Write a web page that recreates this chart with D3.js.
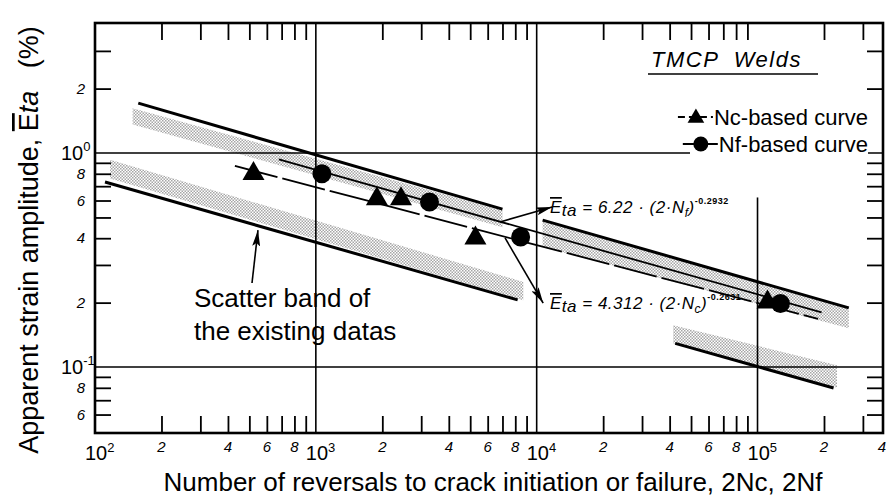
<!doctype html>
<html>
<head>
<meta charset="utf-8"/>
<style>
    html, body { margin: 0; padding: 0; background: #fff; }
    svg { display: block; }
    text { font-family: "Liberation Sans", Arial, sans-serif; fill: #000; }
    .minor-label { font-style: italic; font-size: 15px; }
    .major-label { font-size: 20px; }
    .sup { font-size: 13px; }
    .big { font-size: 26px; }
    .eq { font-style: italic; font-size: 17px; letter-spacing: 0.5px; }
</style>
<script src="https://d3js.org/d3.v7.min.js"></script>
</head>
<body>
<svg width="888" height="497"></svg>
<script>
// ---- data ----
var xDomain = [100, 3.7e5];
var yDomain = [0.0492, 4.05];

var xMajorVals = [1e2, 1e3, 1e4, 1e5];
var xMajorExp = ["2", "3", "4", "5"];
var xLabelVals = [200, 400, 600, 800, 2000, 4000, 6000, 8000, 20000, 40000, 60000, 80000, 200000, 400000];
var xLabelText = ["2", "4", "6", "8", "2", "4", "6", "8", "2", "4", "6", "8", "2", "4"];

var yMajorVals = [1, 0.1];
var yMajorExp = ["0", "-1"];
var yMinorTicks = [3, 2, 0.9, 0.8, 0.7, 0.6, 0.5, 0.4, 0.3, 0.2, 0.09, 0.08, 0.07, 0.06];
var yLabelVals = [2, 0.8, 0.6, 0.4, 0.2, 0.08, 0.06];
var yLabelText = ["2", "8", "6", "4", "2", "8", "6"];

// test points (reversals, strain %)
var ncPoints = [[522, 0.80], [1890, 0.61], [2430, 0.61], [5280, 0.40], [111000, 0.201]];
var nfPoints = [[1065, 0.80], [3270, 0.59], [8460, 0.405], [127000, 0.198]];

// fitted curves (straight in log-log), end points
var nfCurve = [[680, 0.935], [195000, 0.180]];
var ncCurve = [[430, 0.87], [188000, 0.168]];

// scatter bands of existing data: bold edge line + shaded strip
var bandLines = [
    [[157, 1.71], [7000, 0.547]],
    [[111, 0.732], [8200, 0.206]],
    [[10640, 0.486], [259000, 0.189]],
    [[42400, 0.129], [221000, 0.0798]]
];
var bandShades = [
    [[148, 1.62], [7000, 0.54], [7000, 0.45], [148, 1.36]],
    [[117, 0.93], [8700, 0.25], [8700, 0.205], [117, 0.76]],
    [[10640, 0.48], [259000, 0.187], [259000, 0.152], [10640, 0.364]],
    [[41500, 0.157], [229000, 0.102], [229000, 0.080], [41500, 0.129]]
];

var arrows = [
    [[514, 0.247], [547, 0.436]],
    [[6820, 0.476], [11750, 0.56]],
    [[7190, 0.401], [10700, 0.199]]
];

var gridX = [1e3, 1e4];
var gridX5 = [[1e5, 0.0492], [1e5, 0.62]];
var gridY = [1, 0.1];

// ---- drawing ----
var svg = d3.select("svg");
var box = {left: 95, right: 883, top: 23, bottom: 433};

var x = d3.scaleLog().domain(xDomain).range([box.left, box.right]);
var y = d3.scaleLog().domain(yDomain).range([box.bottom, box.top]);

var defs = svg.append("defs");
var pat = defs.append("pattern")
    .attr("id", "stipple")
    .attr("width", 3).attr("height", 3)
    .attr("patternUnits", "userSpaceOnUse");
pat.append("rect").attr("width", 3).attr("height", 3).attr("fill", "#fff");
pat.append("rect").attr("width", 1.5).attr("height", 1.5).attr("fill", "#a6a6a6");
pat.append("rect").attr("x", 1.5).attr("y", 1.5).attr("width", 1.5).attr("height", 1.5).attr("fill", "#a6a6a6");

defs.append("marker")
    .attr("id", "head")
    .attr("viewBox", "0 0 16 8")
    .attr("refX", 16).attr("refY", 4)
    .attr("markerWidth", 16).attr("markerHeight", 8)
    .attr("markerUnits", "userSpaceOnUse")
    .attr("orient", "auto")
    .append("path").attr("d", "M0,0L16,4L0,8L3,4Z").attr("fill", "#000");

var line = d3.line().x(function(d) { return x(d[0]); }).y(function(d) { return y(d[1]); });

// shaded bands
svg.append("g").selectAll("path").data(bandShades).enter().append("path")
    .attr("d", function(d) { return line(d) + "Z"; })
    .attr("fill", "url(#stipple)");

// grid lines
var g = svg.append("g").attr("stroke", "#000").attr("stroke-width", 1.6);
g.selectAll(".gx").data(gridX).enter().append("line")
    .attr("x1", function(d) { return x(d); }).attr("x2", function(d) { return x(d); })
    .attr("y1", box.top).attr("y2", box.bottom);
g.append("path").attr("d", line(gridX5)).attr("fill", "none");
g.selectAll(".gy").data(gridY).enter().append("line")
    .attr("y1", function(d) { return y(d); }).attr("y2", function(d) { return y(d); })
    .attr("x1", box.left).attr("x2", box.right);

// axes ticks (inside)
var xMinor = x.ticks().filter(function(d) {
    var m = d / Math.pow(10, Math.floor(Math.log10(d) + 1e-9));
    return Math.round(m) !== 1;
});
function axisStyle(sel) {
    sel.select(".domain").remove();
    sel.selectAll("line").attr("stroke", "#000").attr("stroke-width", 1.8);
}
svg.append("g").attr("transform", "translate(0," + box.bottom + ")")
    .call(d3.axisBottom(x).tickValues(xMinor).tickSize(-17).tickFormat(""))
    .call(axisStyle);
svg.append("g").attr("transform", "translate(0," + box.top + ")")
    .call(d3.axisTop(x).tickValues(xMinor).tickSize(-17).tickFormat(""))
    .call(axisStyle);
svg.append("g").attr("transform", "translate(" + box.left + ",0)")
    .call(d3.axisLeft(y).tickValues(yMinorTicks).tickSize(-16).tickFormat(""))
    .call(axisStyle);
svg.append("g").attr("transform", "translate(" + box.right + ",0)")
    .call(d3.axisRight(y).tickValues(yMinorTicks).tickSize(-16).tickFormat(""))
    .call(axisStyle);

// frame
svg.append("rect")
    .attr("x", box.left).attr("y", box.top)
    .attr("width", box.right - box.left).attr("height", box.bottom - box.top)
    .attr("fill", "none").attr("stroke", "#000").attr("stroke-width", 2.6);

// bold band edges
svg.append("g").selectAll("path").data(bandLines).enter().append("path")
    .attr("d", line)
    .attr("stroke", "#000").attr("stroke-width", 3).attr("fill", "none");

// fitted curves
svg.append("path").attr("d", line(nfCurve))
    .attr("stroke", "#000").attr("stroke-width", 1.8).attr("fill", "none");
svg.append("path").attr("d", line(ncCurve))
    .attr("stroke", "#000").attr("stroke-width", 1.8).attr("fill", "none")
    .attr("stroke-dasharray", "44,5");

// markers
var tri = d3.symbol().type(d3.symbolTriangle).size(210);
svg.append("g").selectAll("path").data(ncPoints).enter().append("path")
    .attr("d", tri)
    .attr("transform", function(d) { return "translate(" + x(d[0]) + "," + y(d[1]) + ")"; })
    .attr("fill", "#000");
svg.append("g").selectAll("circle").data(nfPoints).enter().append("circle")
    .attr("cx", function(d) { return x(d[0]); })
    .attr("cy", function(d) { return y(d[1]); })
    .attr("r", 9.5).attr("fill", "#000");

// arrows
svg.append("g").selectAll("path").data(arrows).enter().append("path")
    .attr("d", line)
    .attr("stroke", "#000").attr("stroke-width", 1.6).attr("fill", "none")
    .attr("marker-end", "url(#head)");

// x tick labels
svg.append("g").selectAll("text").data(xLabelVals).enter().append("text")
    .attr("class", "minor-label")
    .attr("x", function(d) { return Math.min(x(d), 882); }).attr("y", 452)
    .attr("text-anchor", "middle")
    .text(function(d, i) { return xLabelText[i]; });
var xm = svg.append("g").selectAll("text").data(xMajorVals).enter().append("text")
    .attr("class", "major-label")
    .attr("x", function(d) { return x(d) - 10; }).attr("y", 460);
xm.append("tspan").text("10");
xm.append("tspan").attr("class", "sup").attr("dy", -8).text(function(d, i) { return xMajorExp[i]; });

// y tick labels
svg.append("g").selectAll("text").data(yLabelVals).enter().append("text")
    .attr("class", "minor-label")
    .attr("x", 85).attr("y", function(d) { return y(d) + 5; })
    .attr("text-anchor", "end")
    .text(function(d, i) { return yLabelText[i]; });
var ym = svg.append("g").selectAll("text").data(yMajorVals).enter().append("text")
    .attr("class", "major-label")
    .attr("x", 61).attr("y", function(d) { return y(d) + 7; });
ym.append("tspan").text("10");
ym.append("tspan").attr("class", "sup").attr("dy", -9).text(function(d, i) { return yMajorExp[i]; });

// axis titles
svg.append("text").attr("class", "big")
    .attr("x", 493).attr("y", 491).attr("text-anchor", "middle")
    .text("Number of reversals to crack initiation or failure, 2Nc, 2Nf");

var yl = svg.append("text").attr("class", "big").style("font-size", "27px")
    .attr("transform", "translate(38,240) rotate(-90)")
    .attr("text-anchor", "middle");
yl.append("tspan").text("Apparent strain amplitude, ");
yl.append("tspan").style("text-decoration", "overline").text("E");
yl.append("tspan").style("font-style", "italic").text("ta");
yl.append("tspan").attr("xml:space", "preserve").text("   (%)");

// annotation text
var st = svg.append("text").attr("class", "big").attr("x", 194).attr("y", 307);
st.append("tspan").text("Scatter band of");
st.append("tspan").attr("x", 194).attr("dy", 33).text("the existing datas");

function equation(px, py, coef, sub, expo) {
    var t = svg.append("text").attr("class", "eq").attr("x", px).attr("y", py);
    t.append("tspan").style("text-decoration", "overline").text("E");
    t.append("tspan").attr("dy", 3).text("ta");
    t.append("tspan").attr("dy", -3).text(" = " + coef + " \u00b7 (2\u00b7N");
    t.append("tspan").attr("dy", 4).style("font-size", "12px").text(sub);
    t.append("tspan").attr("dy", -4).text(")");
    t.append("tspan").attr("dy", -9).style("font-size", "9px").style("font-weight", "bold")
        .style("font-style", "normal").text(expo);
}
equation(550, 213, "6.22", "f", "-0.2932");
equation(550, 309, "4.312", "c", "-0.2631");

// legend
var lg = svg.append("g");
lg.append("text").attr("x", 651).attr("y", 67)
    .style("font-style", "italic").style("font-size", "22px").style("letter-spacing", "1.5px")
    .attr("xml:space", "preserve").text("TMCP  Welds");
lg.append("line").attr("x1", 648).attr("x2", 818).attr("y1", 74).attr("y2", 74)
    .attr("stroke", "#000").attr("stroke-width", 1.6);

var legendItems = [
    {label: "Nc-based curve", y: 125, shape: "tri", dash: "7,4"},
    {label: "Nf-based curve", y: 152, shape: "circle", dash: null}
];
legendItems.forEach(function(it) {
    lg.append("rect").attr("x", 690).attr("y", it.y - 20).attr("width", 178).attr("height", 24).attr("fill", "#fff");
    var t = lg.append("text").attr("class", "big").style("font-size", "22px")
        .attr("x", 868).attr("y", it.y).attr("text-anchor", "end").text(it.label);
    var x0 = 868 - t.node().getComputedTextLength();
    var cy = it.y - 8;
    lg.append("line").attr("x1", x0 - 36).attr("x2", x0 - 1).attr("y1", cy).attr("y2", cy)
        .attr("stroke", "#000").attr("stroke-width", 1.8)
        .attr("stroke-dasharray", it.dash);
    if (it.shape === "tri") {
        lg.append("path").attr("d", d3.symbol().type(d3.symbolTriangle).size(120))
            .attr("transform", "translate(" + (x0 - 18) + "," + (cy + 1) + ")");
    } else {
        lg.append("circle").attr("cx", x0 - 18).attr("cy", cy).attr("r", 7.5);
    }
});
</script>
</body>
</html>
